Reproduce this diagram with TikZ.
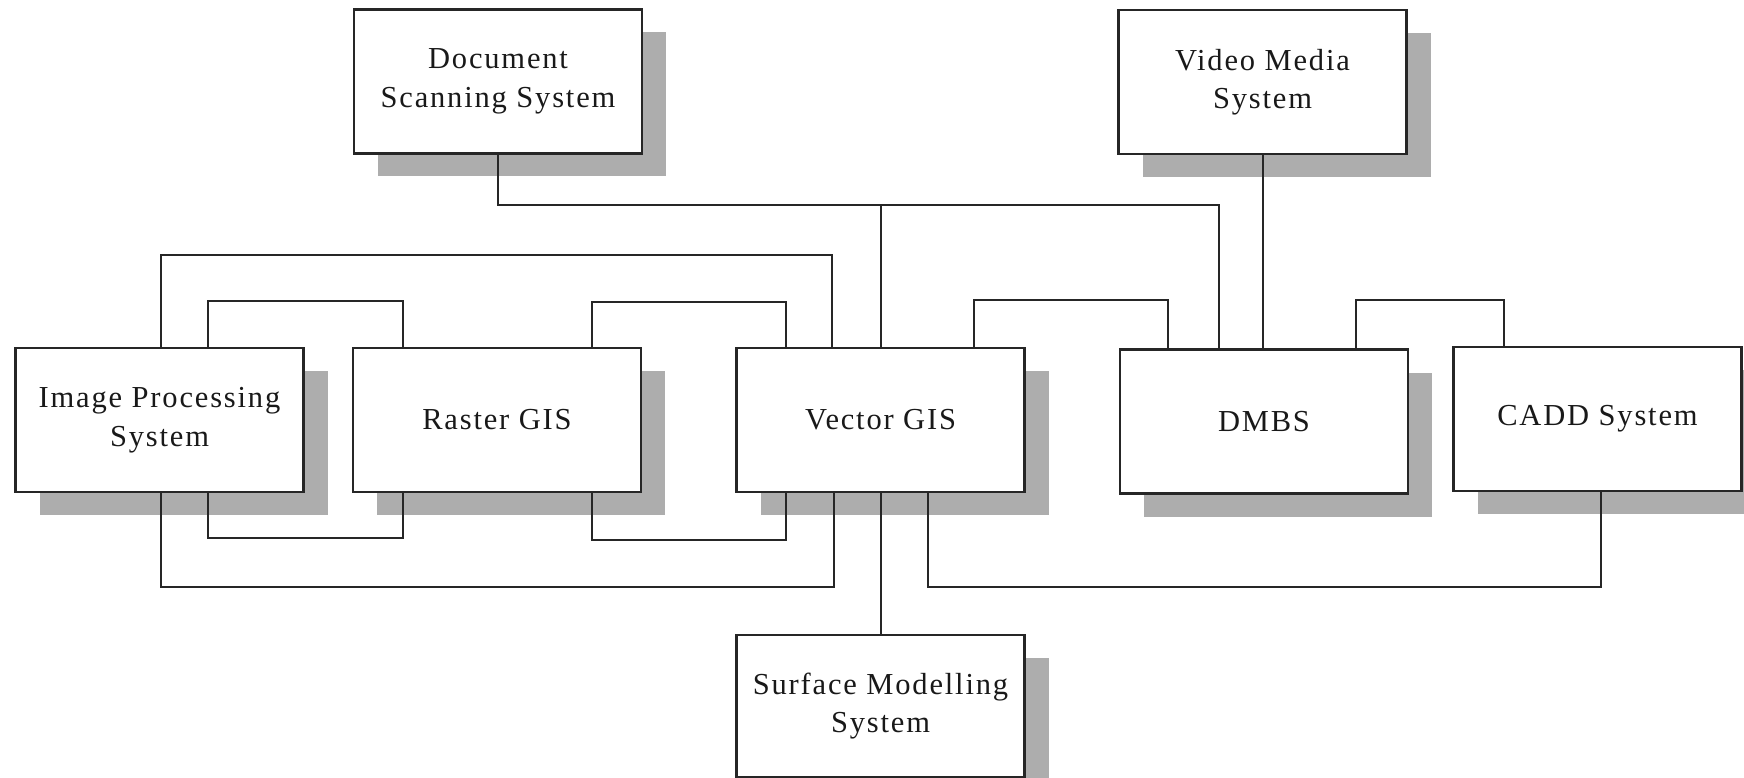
\documentclass[tikz,border=0pt]{standalone}
\usepackage{fontspec}
\setmainfont{Liberation Serif}[LetterSpace=6]
\usetikzlibrary{shadows}

\tikzset{
  sysbox/.style={draw=black!85, line width=2.1pt, fill=white,
    minimum width=288pt, minimum height=144pt, inner sep=0pt,
    align=center, text=black!90,
    font=\fontsize{30.5}{38.5}\selectfont,
    drop shadow={shadow xshift=24pt, shadow yshift=-23pt,
      fill=black!32, opacity=1}},
  link/.style={draw=black!85, line width=2pt}
}

\begin{document}
\begin{tikzpicture}[x=1pt, y=-1pt]
  \useasboundingbox (0,0) rectangle (1744,778);
  \fill[white] (0,0) rectangle (1744,778);

  % systems
  \node[sysbox] (doc)     at (498,81.5)   {Document\\Scanning System};
  \node[sysbox] (video)   at (1262.5,82)  {Video Media\\System};
  \node[sysbox] (ip)      at (159.5,420)  {Image Processing\\System};
  \node[sysbox] (raster)  at (497,420)    {Raster GIS};
  \node[sysbox] (vector)  at (880.5,420)  {Vector GIS};
  \node[sysbox] (dmbs)    at (1264,421.5) {DMBS};
  \node[sysbox] (cadd)    at (1597.5,419) {CADD System};
  \node[sysbox, minimum height=142pt] (surface) at (880.5,706) {Surface Modelling\\System};

  % junction on the upper bus
  \coordinate (bus) at ([yshift=-50pt]doc.south);

  % upper bus: document scanning, vector GIS, DMBS
  \draw[link] (doc.south) -- (bus) -| ([xshift=-45pt]dmbs.north);
  \draw[link] (vector.north) -- (vector.north |- bus);
  \draw[link] (video.south) -- (video.south |- dmbs.north);

  % links above the middle row
  \draw[link] ([xshift=1.5pt]ip.north) -- ++(0,-92) -| ([xshift=-48.5pt]vector.north);
  \draw[link] ([xshift=48.5pt]ip.north) -- ++(0,-46) -| ([xshift=-94pt]raster.north);
  \draw[link] ([xshift=95pt]raster.north) -- ++(0,-45) -| ([xshift=-94.5pt]vector.north);
  \draw[link] ([xshift=93.5pt]vector.north) -- ++(0,-47) -| ([xshift=-96pt]dmbs.north);
  \draw[link] ([xshift=92pt]dmbs.north) -- ++(0,-48) -| ([xshift=-93.5pt]cadd.north);

  % links below the middle row
  \draw[link] ([xshift=48.5pt]ip.south) -- ++(0,45) -| ([xshift=-94pt]raster.south);
  \draw[link] ([xshift=95pt]raster.south) -- ++(0,47) -| ([xshift=-94.5pt]vector.south);
  \draw[link] ([xshift=1.5pt]ip.south) -- ++(0,94) -| ([xshift=-46.5pt]vector.south);
  \draw[link] ([xshift=47.5pt]vector.south) -- ++(0,94) -| ([xshift=3.5pt]cadd.south);
  \draw[link] (vector.south) -- (surface.north);
\end{tikzpicture}
\end{document}
